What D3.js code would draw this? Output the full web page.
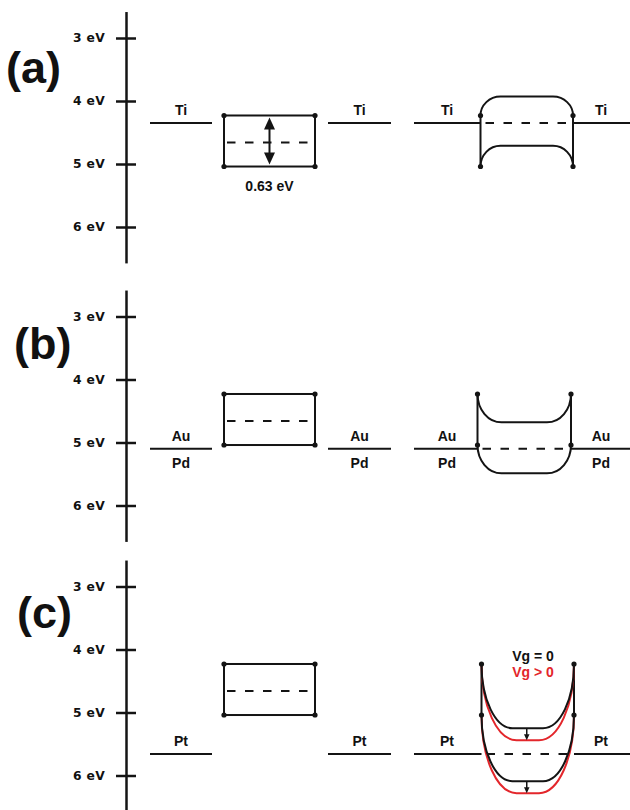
<!DOCTYPE html>
<html>
<head>
<meta charset="utf-8">
<script src="https://cdn.jsdelivr.net/npm/d3@7"></script>
<style>
body { margin: 0; background: #fff; }
svg text { font-family: "Liberation Sans", Arial, sans-serif; font-weight: bold; fill: #111; }
.tick text { font-family: "DejaVu Sans", sans-serif; font-size: 12.3px; letter-spacing: 0.3px; }
</style>
</head>
<body>
<svg id="chart"></svg>
<script>
// data (energies in eV below vacuum)
const panelLabels = ['(a)', '(b)', '(c)'];
const metalTop = ['Ti', 'Au', 'Pt'];
const metalBottom = [null, 'Pd', null];
const workFunction = [4.35, 5.10, 5.66];
const bandCB = [4.23, 4.23, 4.23];
const bandVB = [5.04, 5.04, 5.04];
const midGap = [4.66, 4.66, 4.66];
const bulkCB = [3.93, 4.68, 5.25];
const bulkVB = [4.71, 5.49, 6.09];
const gatedCB = [null, null, 5.44];
const gatedVB = [null, null, 6.28];
const tickValues = [3, 4, 5, 6];
const gapLabel = '0.63 eV';
const gateLabels = ['Vg = 0', 'Vg > 0'];

// layout
const W = 630, H = 810;
const axisX = 126;
const pxPerEv = 63;
const layout = [
	{t3: 38, lx: 6, ly: 83, xL: 480.5, xR: 573, bend: 20},
	{t3: 316.5, lx: 14, ly: 359, xL: 477.5, xR: 571, bend: 24},
	{t3: 586.5, lx: 17, ly: 627.5, xL: 481.5, xR: 574, bend: 31}
];
const ink = '#141414';
const red = '#e3262b';
const box = {x0: 224, x1: 315};
const leftMetal = [150, 212];
const midMetal = [328, 391];

const $svg = d3.select('#chart').attr('width', W).attr('height', H);

// quarter-ellipse band bending between the two contacts
function bendPath(xL, xR, yEdge, yBulk, w) {
	const ry = Math.abs(yBulk - yEdge);
	const s = yBulk > yEdge ? 0 : 1;
	return 'M' + xL + ',' + yEdge +
		'A' + w + ',' + ry + ' 0 0 ' + s + ' ' + (xL + w) + ',' + yBulk +
		'L' + (xR - w) + ',' + yBulk +
		'A' + w + ',' + ry + ' 0 0 ' + s + ' ' + xR + ',' + yEdge;
}

function hline(g, x0, x1, yv, opts) {
	const l = g.append('line')
		.attr('x1', x0).attr('x2', x1)
		.attr('y1', yv).attr('y2', yv)
		.attr('stroke', (opts && opts.color) || ink)
		.attr('stroke-width', 2);
	if (opts && opts.dash) l.attr('stroke-dasharray', opts.dash);
	return l;
}

function metalLabels(g, i, cx, yv) {
	g.append('text').attr('x', cx).attr('y', yv - 8)
		.attr('text-anchor', 'middle').style('font-size', '14px').text(metalTop[i]);
	if (metalBottom[i]) {
		g.append('text').attr('x', cx).attr('y', yv + 19)
			.attr('text-anchor', 'middle').style('font-size', '14px').text(metalBottom[i]);
	}
}

function dots(g, pts) {
	g.selectAll(null).data(pts).enter().append('circle')
		.attr('cx', d => d[0]).attr('cy', d => d[1]).attr('r', 2.6).attr('fill', ink);
}

function arrowHead(g, x, tipY, dir, w, h, color) {
	// dir = 1 points down, -1 points up
	g.append('path')
		.attr('d', 'M' + x + ',' + tipY + 'L' + (x - w / 2) + ',' + (tipY - dir * h) +
			'L' + (x + w / 2) + ',' + (tipY - dir * h) + 'Z')
		.attr('fill', color);
}

panelLabels.forEach(function(lab, i) {
	const L = layout[i];
	const y = d3.scaleLinear()
		.domain([2.58, 6.57])
		.range([L.t3 - 0.42 * pxPerEv, L.t3 + 3.57 * pxPerEv]);
	const g = $svg.append('g');

	g.append('text').attr('x', L.lx).attr('y', L.ly)
		.style('font-size', '45px').text(lab);

	// energy axis
	g.append('g')
		.attr('transform', 'translate(' + axisX + ',0)')
		.call(d3.axisLeft(y).tickValues(tickValues).tickSize(10).tickSizeOuter(0)
			.tickPadding(11).tickFormat(d => d + ' eV'))
		.call(a => {
			a.select('.domain').attr('stroke', ink).attr('stroke-width', 2.5);
			a.selectAll('.tick line').attr('x1', 10).attr('stroke', ink).attr('stroke-width', 2.5);
			a.selectAll('.tick text').attr('fill', ink);
		});

	const yWF = y(workFunction[i]);
	const yC = y(bandCB[i]);
	const yV = y(bandVB[i]);

	// isolated metal (left)
	hline(g, leftMetal[0], leftMetal[1], yWF);
	metalLabels(g, i, (leftMetal[0] + leftMetal[1]) / 2, yWF);

	// isolated semiconductor
	g.append('rect')
		.attr('x', box.x0).attr('y', yC)
		.attr('width', box.x1 - box.x0).attr('height', yV - yC)
		.attr('fill', 'none').attr('stroke', ink).attr('stroke-width', 2);
	hline(g, box.x0 + 3, box.x1, y(midGap[i]), {dash: '8.5,9.5'});
	dots(g, [[box.x0, yC], [box.x1, yC], [box.x0, yV], [box.x1, yV]]);

	if (i === 0) {
		const cx = (box.x0 + box.x1) / 2;
		g.append('line').attr('x1', cx).attr('x2', cx)
			.attr('y1', yC + 10).attr('y2', yV - 10)
			.attr('stroke', ink).attr('stroke-width', 2);
		arrowHead(g, cx, yC + 2, -1, 11, 12, ink);
		arrowHead(g, cx, yV - 2, 1, 11, 12, ink);
		g.append('text').attr('x', cx).attr('y', yV + 24)
			.attr('text-anchor', 'middle').style('font-size', '14px').text(gapLabel);
	}

	// isolated metal (middle)
	hline(g, midMetal[0], midMetal[1], yWF);
	metalLabels(g, i, (midMetal[0] + midMetal[1]) / 2, yWF);

	// contacted device
	const xL = L.xL, xR = L.xR;
	hline(g, 414, xL, yWF);
	hline(g, xR, W + 2, yWF);
	metalLabels(g, i, 447, yWF);
	metalLabels(g, i, 601, yWF);

	g.append('line').attr('x1', xL).attr('x2', xL).attr('y1', yC).attr('y2', yV)
		.attr('stroke', ink).attr('stroke-width', 2);
	g.append('line').attr('x1', xR).attr('x2', xR).attr('y1', yC).attr('y2', yV)
		.attr('stroke', ink).attr('stroke-width', 2);
	hline(g, xL + 5, xR - 2, yWF, {dash: '8.5,9.5'});

	if (gatedCB[i] !== null) {
		g.append('path').attr('d', bendPath(xL, xR, yC, y(gatedCB[i]), L.bend + 4))
			.attr('fill', 'none').attr('stroke', red).attr('stroke-width', 2);
		g.append('path').attr('d', bendPath(xL, xR, yV, y(gatedVB[i]), L.bend + 4))
			.attr('fill', 'none').attr('stroke', red).attr('stroke-width', 2);
	}
	g.append('path').attr('d', bendPath(xL, xR, yC, y(bulkCB[i]), L.bend))
		.attr('fill', 'none').attr('stroke', ink).attr('stroke-width', 2);
	g.append('path').attr('d', bendPath(xL, xR, yV, y(bulkVB[i]), L.bend))
		.attr('fill', 'none').attr('stroke', ink).attr('stroke-width', 2);
	dots(g, [[xL, yC], [xR, yC], [xL, yV], [xR, yV]]);

	if (gatedCB[i] !== null) {
		const cx = (xL + xR) / 2 - 1;
		[[bulkCB[i], gatedCB[i]], [bulkVB[i], gatedVB[i]]].forEach(function(p) {
			g.append('line').attr('x1', cx).attr('x2', cx)
				.attr('y1', y(p[0])).attr('y2', y(p[1]) - 4)
				.attr('stroke', ink).attr('stroke-width', 1.5);
			arrowHead(g, cx, y(p[1]), 1, 5.5, 6, ink);
		});
		g.append('text').attr('x', 533).attr('y', yC - 3)
			.attr('text-anchor', 'middle').style('font-size', '14px').text(gateLabels[0]);
		g.append('text').attr('x', 533).attr('y', yC + 13)
			.attr('text-anchor', 'middle').style('font-size', '14px')
			.style('fill', red).text(gateLabels[1]);
	}
});
</script>
</body>
</html>
